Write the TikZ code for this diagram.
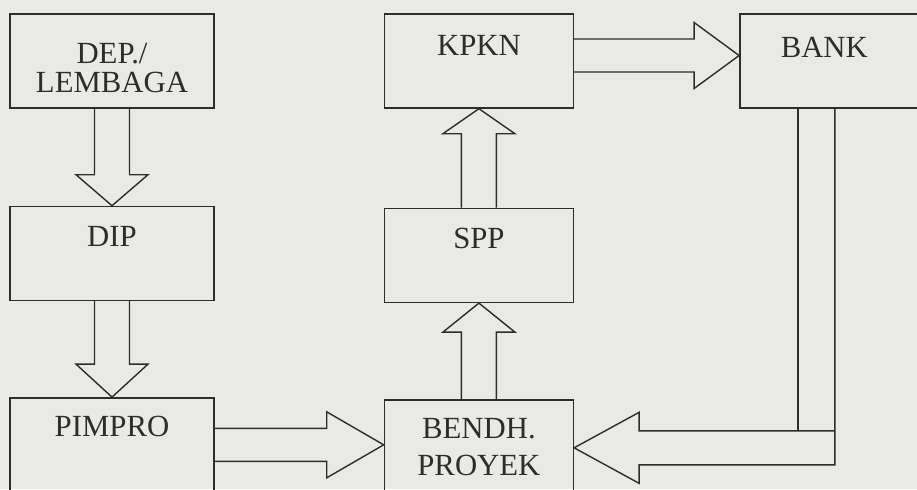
\documentclass[tikz,border=0pt]{standalone}
\usepackage{fontspec}
\setmainfont{Liberation Serif}
\usepackage{tikz}
\usetikzlibrary{positioning}
\definecolor{paper}{RGB}{233,233,230}
\definecolor{ink}{RGB}{45,45,45}
\tikzset{
    unit/.style = {rectangle, minimum width=4.08cm, minimum height=1.88cm, draw=ink, line width=0.8pt},
    office/.style = {unit, minimum width=3.78cm},
    tall/.style = {minimum height=2cm},
    caption/.style = {inner sep=0pt, align=center, text=ink, font=\fontsize{17.5}{16}\selectfont},
    blockline/.style = {draw=ink, line width=0.8pt, line join=miter}
}
% hollow block arrows: from, to, head length
\newcommand{\blockdown}[3]{%
    \draw[blockline] ([xshift=-0.35cm]#1.south) -- ([xshift=-0.35cm,yshift=#3]#2.north) -- ([xshift=-0.72cm,yshift=#3]#2.north) -- (#2.north) -- ([xshift=0.72cm,yshift=#3]#2.north) -- ([xshift=0.35cm,yshift=#3]#2.north) -- ([xshift=0.35cm]#1.south);
}
\newcommand{\blockup}[3]{%
    \draw[blockline] ([xshift=-0.35cm]#1.north) -- ([xshift=-0.35cm,yshift=-#3]#2.south) -- ([xshift=-0.72cm,yshift=-#3]#2.south) -- (#2.south) -- ([xshift=0.72cm,yshift=-#3]#2.south) -- ([xshift=0.35cm,yshift=-#3]#2.south) -- ([xshift=0.35cm]#1.north);
}
% from, to, shift of the axis, head length
\newcommand{\blockright}[4]{%
    \coordinate (axis) at ([yshift=#3]#1.east);
    \coordinate (tip) at (axis -| #2.west);
    \draw[blockline] ([yshift=0.33cm]axis) -- ([xshift=-#4,yshift=0.33cm]tip) -- ([xshift=-#4,yshift=0.66cm]tip) -- (tip) -- ([xshift=-#4,yshift=-0.66cm]tip) -- ([xshift=-#4,yshift=-0.33cm]tip) -- ([yshift=-0.33cm]axis);
}

\begin{document}
\begin{tikzpicture}
    \useasboundingbox (0,0) rectangle (18.34,-9.78);
    \clip (0,0) rectangle (18.34,-9.78);
    \fill[paper] (0,0) rectangle (18.34,-9.78);

    % left column
    \node [unit] (dep) at (2.24,-1.22) {};
    \node [unit, below=1.94cm of dep] (dip) {};
    \node [unit, tall, below=1.92cm of dip] (pimpro) {};
    % middle column and bank
    \node [office, right=3.38cm of dep] (kpkn) {};
    \node [office, below=1.98cm of kpkn] (spp) {};
    \node [office, tall, below=1.92cm of spp] (bendh) {};
    \node [office, right=3.3cm of kpkn] (bank) {};

    \node [caption, below=0.6cm of dep.north] (dep-text) {DEP./\\LEMBAGA};
    \node [caption, below=0.40cm of dip.north] (dip-text) {DIP};
    \node [caption, below=0.37cm of pimpro.north] (pimpro-text) {PIMPRO};
    \node [caption, below=0.44cm of kpkn.north] (kpkn-text) {KPKN};
    \node [caption, below=0.41cm of spp.north] (spp-text) {SPP};
    \node [caption, below=0.37cm of bendh.north] (bendh-text) {BENDH.\\[5pt]PROYEK};
    \node [caption, below=0.47cm of bank.north, xshift=-0.2cm] (bank-text) {BANK};

    \blockdown{dep}{dip}{0.62cm}
    \blockdown{dip}{pimpro}{0.66cm}
    \blockup{spp}{kpkn}{0.5cm}
    \blockup{bendh}{spp}{0.58cm}
    \blockright{pimpro}{bendh}{0.06cm}{1.14cm}
    \blockright{kpkn}{bank}{0.11cm}{0.9cm}

    % bank back to bendh.
    \coordinate (drop) at ([xshift=-0.36cm]bank.south);
    \coordinate (back) at ([yshift=0.04cm]bendh.east);
    \coordinate (bend) at (drop |- back);
    \draw[blockline] ([xshift=-0.37cm]drop) -- ([xshift=-0.37cm,yshift=0.34cm]bend);
    \draw[blockline] ([xshift=0.37cm]drop) -- ([xshift=0.37cm,yshift=-0.34cm]bend) -- ([xshift=1.3cm,yshift=-0.34cm]back) -- ([xshift=1.3cm,yshift=-0.71cm]back) -- (back) -- ([xshift=1.3cm,yshift=0.71cm]back) -- ([xshift=1.3cm,yshift=0.34cm]back) -- ([xshift=0.37cm,yshift=0.34cm]bend);
\end{tikzpicture}
\end{document}
